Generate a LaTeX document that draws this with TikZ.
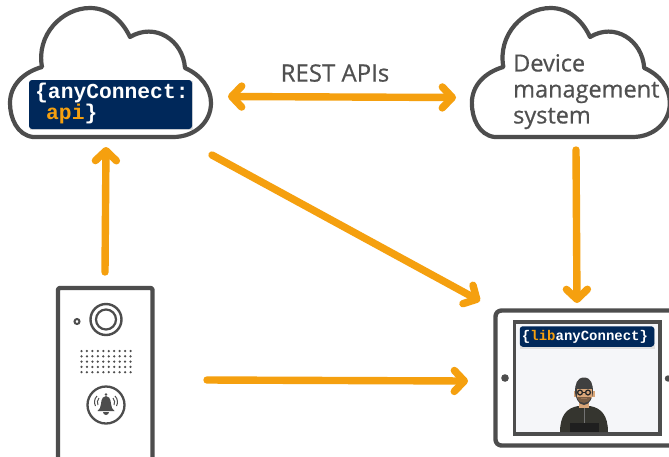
\documentclass[tikz,border=0pt]{standalone}
\usepackage{fontspec}
\setmainfont{Open Sans}[RawFeature={embolden=0.6}]
\newfontfamily\codefont{Liberation Mono}[BoldFont={Liberation Mono Bold}]
\usetikzlibrary{arrows.meta}
\definecolor{orangeA}{HTML}{F5A00F}
\definecolor{greyA}{HTML}{4D4D4D}
\definecolor{navyA}{HTML}{00285A}
\definecolor{textA}{HTML}{505050}
\definecolor{screenA}{HTML}{F5F6F9}
\definecolor{jacketA}{HTML}{35352F}
\definecolor{skinA}{HTML}{D9A679}
\definecolor{maskA}{HTML}{404040}
\tikzset{
  conn/.style={draw=orangeA,line width=7.4pt,line cap=round,line join=round},
  tipend/.style={-{Straight Barb[length=10pt,width=21pt,round,line width=7.4pt]}},
  tipboth/.style={{Straight Barb[length=10pt,width=21pt,round,line width=7.4pt]}-{Straight Barb[length=10pt,width=21pt,round,line width=7.4pt]}},
  cloudline/.style={draw=greyA,line width=4.2pt,fill=white,line join=round},
  devline/.style={draw=greyA,line width=4.4pt,fill=white,line join=round},
  badge/.style={fill=navyA,rounded corners=3pt,inner sep=0pt,anchor=center},
  cloudtext/.style={text=textA,font=\fontsize{23.5}{26}\selectfont,align=left,anchor=north west,inner sep=0pt},
  pix/.style={x=1pt,y=-1pt}
}
\newcommand{\cloudshape}{
  (33,137) .. controls (17,135) and (10,118) .. (10,103)
  .. controls (10,85) and (24,72) .. (42,67)
  .. controls (36,35) and (62,8) .. (90,8)
  .. controls (108,8) and (122,20) .. (130,37)
  .. controls (155,22) and (183,40) .. (185,68)
  .. controls (201,75) and (211,88) .. (211,103)
  .. controls (211,122) and (195,137) .. (173,137) -- cycle}
\begin{document}
\begin{tikzpicture}[pix]
\useasboundingbox (0,0) rectangle (669,456);
\fill[white] (0,0) rectangle (669,456);

% API cloud
\draw[cloudline] \cloudshape;
\fill[black!12] (30,81) rectangle (193,130);
\node[badge,minimum width=163pt,minimum height=49pt] (api) at (110.5,104.5) {};
\node[inner sep=0pt,anchor=west,text=white,font=\codefont\bfseries\fontsize{21.3}{22}\selectfont] (apil1) at (35,93) {\{anyConnect:};
\node[inner sep=0pt,anchor=west,font=\codefont\bfseries\fontsize{21.3}{22}\selectfont] (apil2) at (46,114) {\textcolor{orangeA}{api}\textcolor{white}{\}}};

% Device management cloud
\begin{scope}[xshift=462pt]
\draw[cloudline,x=0.985pt] \cloudshape;
\end{scope}
\node[cloudtext] (dms) at (513,54) {Device\\management\\system};

% Labels
\node[inner sep=0pt,text=textA,font=\fontsize{24}{28}\selectfont] (rest) at (335,73) {REST APIs};

% Door station
\draw[devline,rounded corners=2pt] (58,462) -- (58,288) -- (152.5,288) -- (152.5,462);
\node[circle,draw=greyA,line width=2.4pt,minimum size=31pt,inner sep=0pt] (camO) at (106,319.5) {};
\node[circle,draw=greyA,line width=2.2pt,minimum size=20pt,inner sep=0pt] (camI) at (106,319.5) {};
\node[circle,draw=greyA,line width=2pt,minimum size=5pt,inner sep=0pt] (led) at (77,321.5) {};
\foreach \r in {0,...,4}{\foreach \c in {0,...,9}{
  \fill[greyA] ({81.5+\c*5.45},{351+\r*5.3}) circle (1.25pt);
}}
\node[circle,draw=greyA,line width=2.3pt,minimum size=37pt,inner sep=0pt] (btn) at (106,405) {};
% bell
\fill[greyA] (106,394.5) circle (1.4pt);
\fill[greyA] (100,408) .. controls (102,403) and (100,397) .. (106,396)
   .. controls (112,397) and (110,403) .. (112,408) -- (114.5,411) -- (97.5,411) -- cycle;
\fill[greyA] (103,412) arc[start angle=180,end angle=0,radius=3pt,y radius=-3pt] -- cycle;
\draw[greyA,line width=1pt] (99,398) .. controls (97,400) and (97,403) .. (98,405);
\draw[greyA,line width=1pt] (97,396) .. controls (94,399) and (94,403) .. (95.5,406);
\draw[greyA,line width=1pt] (113,398) .. controls (115,400) and (115,403) .. (114,405);
\draw[greyA,line width=1pt] (115,396) .. controls (118,399) and (118,403) .. (116.5,406);

% Tablet
\draw[devline,rounded corners=6pt] (675,310.5) -- (495.5,310.5) -- (495.5,445.5) -- (675,445.5);
\fill[greyA] (505,378) circle (3.8pt);
\fill[greyA] (668,378.5) circle (3.2pt);
\draw[draw=greyA,line width=3.8pt,fill=screenA] (514.5,322) rectangle (660,434);
\fill[black!12] (520,328) rectangle (654.5,349);
\node[badge,minimum width=134.5pt,minimum height=20.5pt] (lib) at (587,336.5) {};
\node[inner sep=0pt,font=\codefont\bfseries\fontsize{14}{15}\selectfont] (libt) at (585,336.5) {\textcolor{white}{\{}\textcolor{orangeA}{lib}\textcolor{white}{anyConnect\}}};

% Man on the screen
\fill[jacketA] (560,432.2) .. controls (560,415) and (567,408) .. (578,406)
  -- (590,406) .. controls (601,408) and (608,415) .. (608,432.2) -- cycle;
\fill[black!88] (570,423) rectangle (599,432.2);
\draw[black!55,line width=0.4pt] (584,407) -- (584,423);
\fill[skinA] (579,398) rectangle (589,408);
\fill[skinA] (573.5,391) rectangle (576,397);
\fill[skinA] (592,391) rectangle (594.5,397);
\fill[maskA] (584,377.5) .. controls (577,377.5) and (575,384) .. (575,392)
   .. controls (575,396) and (578,405) .. (584,405)
   .. controls (590,405) and (593,396) .. (593,392)
   .. controls (593,384) and (591,377.5) .. (584,377.5) -- cycle;
\fill[skinA] (576.5,389) rectangle (591.5,398);
\fill[black!45!skinA] (577,397) .. controls (579,405) and (589,405) .. (591,397) -- cycle;
\fill[skinA!70!black] (581,397.5) rectangle (587,399);
\draw[black!85,line width=1.3pt] (580,392.5) circle (2.4pt) (588,392.5) circle (2.4pt);
\draw[black!85,line width=1pt] (582.5,392.5) -- (585.5,392.5);

% Anchors for connectors
\coordinate (doorTop) at (105,272);
\coordinate (apiBottom) at (106,147);
\coordinate (apiRight) at (228,96.5);
\coordinate (dmsLeft) at (456,97.5);
\coordinate (apiDiag) at (212,155);
\coordinate (tabTopLeft) at (480,301);
\coordinate (dmsBottom) at (576,150);
\coordinate (tabTop) at (577,303);
\coordinate (doorRight) at (207,380);
\coordinate (tabLeft) at (468,381);

% Connectors
\draw[conn,tipend] (doorTop) -- (apiBottom);
\draw[conn,tipboth] (apiRight) -- (dmsLeft);
\draw[conn,tipend] (apiDiag) -- (tabTopLeft);
\draw[conn,tipend] (dmsBottom) -- (tabTop);
\draw[conn,tipend] (doorRight) -- (tabLeft);
\end{tikzpicture}
\end{document}
